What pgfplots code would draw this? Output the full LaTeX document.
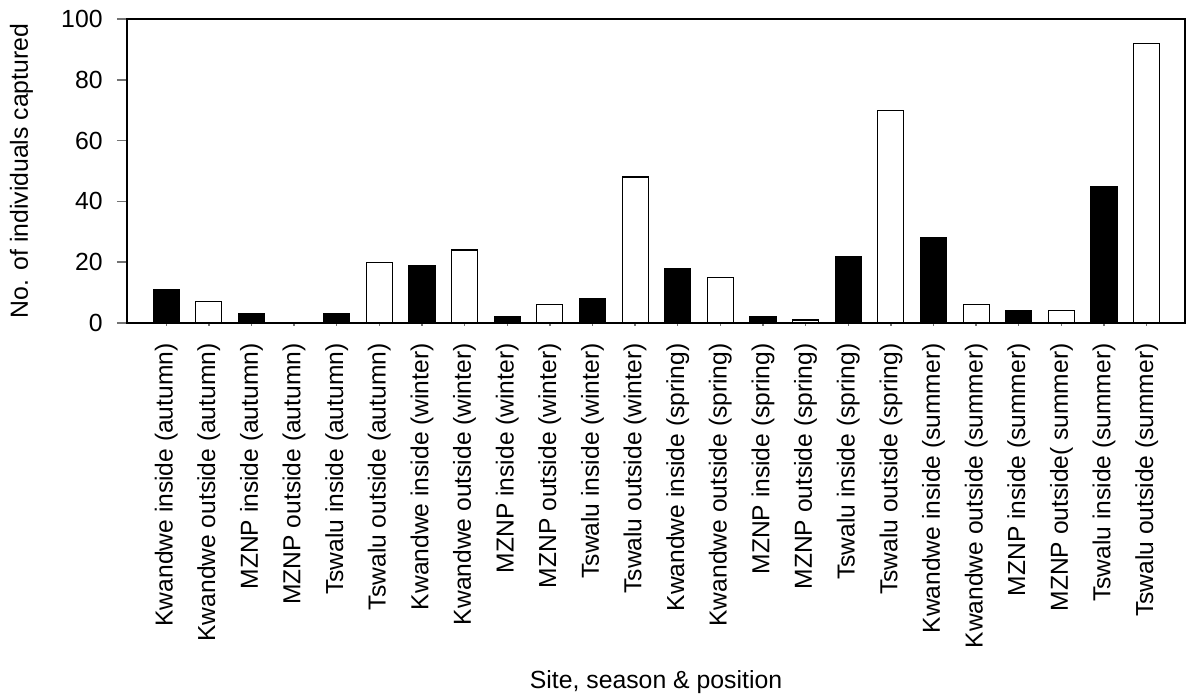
\documentclass[border=0pt]{standalone}
\usepackage{pgfplots}
\pgfplotsset{compat=1.18}
\usepackage{fontspec}
\setmainfont{Liberation Sans}
\begin{document}
\fontsize{12.4}{14}\selectfont
\begin{tikzpicture}
\begin{axis}[
  scale only axis,
  width=529pt, height=152pt,
  xmin=-0.92, xmax=23.9,
  ymin=0, ymax=100,
  ytick={0,20,40,60,80,100},
  xtick={0,...,23},
  xticklabels={
    Kwandwe inside (autumn),Kwandwe outside (autumn),MZNP inside (autumn),MZNP outside (autumn),Tswalu inside (autumn),Tswalu outside (autumn),
    Kwandwe inside (winter),Kwandwe outside (winter),MZNP inside (winter),MZNP outside (winter),Tswalu inside (winter),Tswalu outside (winter),
    Kwandwe inside (spring),Kwandwe outside (spring),MZNP inside (spring),MZNP outside (spring),Tswalu inside (spring),Tswalu outside (spring),
    Kwandwe inside (summer),Kwandwe outside (summer),MZNP inside (summer),MZNP outside( summer),Tswalu inside (summer),Tswalu outside (summer)},
  /pgf/number format/assume math mode=true,
  tick align=outside,
  xtick pos=bottom, ytick pos=left,
  major tick length=5pt,
  xtick style={draw=none},
  every y tick/.style={draw=black!55, line width=0.8pt},
  xticklabel style={rotate=90, anchor=east, inner sep=0pt, font=\fontsize{12.3}{14}\selectfont},
  xticklabel shift=5pt,
  yticklabel style={inner sep=0pt, font=\fontsize{12.4}{14}\selectfont},
  yticklabel shift=7pt,
  xlabel={Site, season \& position},
  ylabel={No. of individuals captured},
  xlabel style={at={(axis description cs:0.5,-1.2007)}, anchor=base, font=\fontsize{12.4}{14}\selectfont},
  ylabel style={at={(axis description cs:-0.0936,0.5)}, anchor=base, font=\fontsize{12.4}{14}\selectfont},
  axis line style={black, line width=0.7pt},
  ybar, bar width=13pt, bar shift=0pt,
]
\addplot[fill=black, draw=black, line width=0.6pt] coordinates {
(0,11) (2,3) (4,3) (6,19) (8,2) (10,8) (12,18) (14,2) (16,22) (18,28) (20,4) (22,45)};
\addplot[fill=white, draw=black, line width=0.6pt] coordinates {
(1,7) (3,0) (5,20) (7,24) (9,6) (11,48) (13,15) (15,1) (17,70) (19,6) (21,4) (23,92)};
\end{axis}
\begin{axis}[
  scale only axis,
  width=529pt, height=152pt,
  xmin=-0.92, xmax=23.9,
  ymin=0, ymax=100,
  xtick={0,...,23},
  xticklabels=\empty,
  ytick=\empty,
  xtick pos=bottom,
  tick align=outside,
  major tick length=1.5pt,
  axis line style={black, line width=0.7pt},
  every x tick/.style={draw=black!55, line width=0.7pt},
]
\end{axis}
\pgfresetboundingbox
\path[use as bounding box] (-63.5pt,-186pt) rectangle (529.5pt,161.5pt);
\end{tikzpicture}
\end{document}
